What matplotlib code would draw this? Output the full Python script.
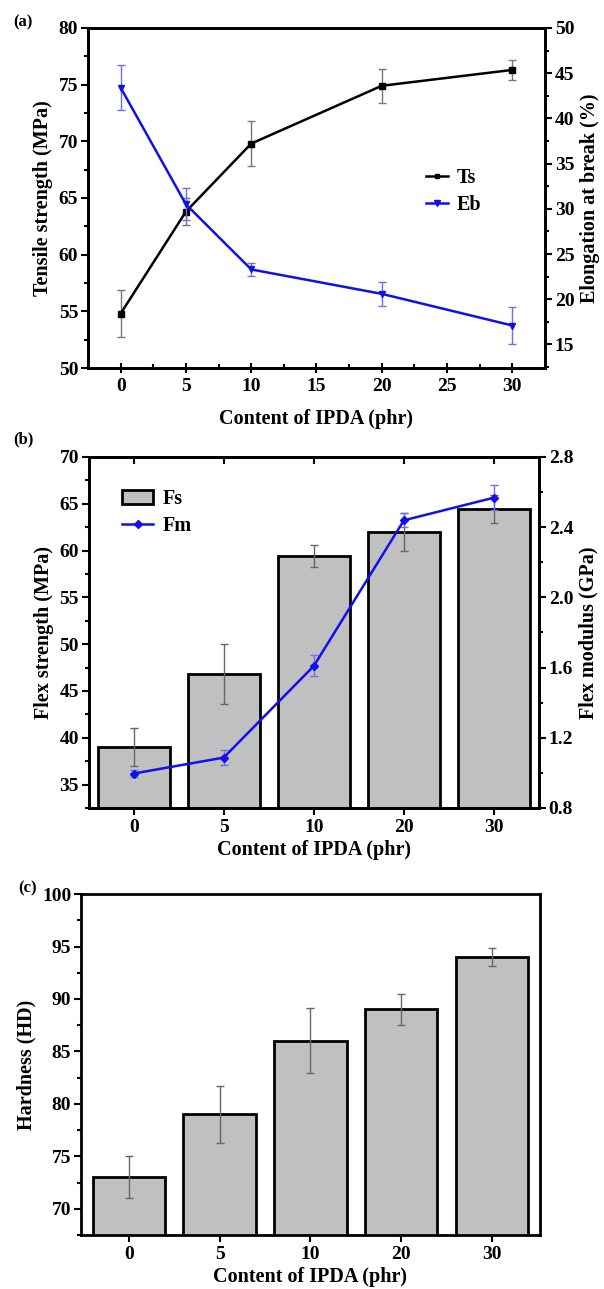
import numpy as np
import matplotlib.pyplot as plt
from matplotlib.ticker import MultipleLocator
from matplotlib.lines import Line2D
from matplotlib.patches import Patch

plt.rcParams['font.family'] = 'Liberation Serif'
plt.rcParams['font.weight'] = 'bold'
plt.rcParams['axes.labelweight'] = 'bold'
plt.rcParams['axes.linewidth'] = 2

# (a) tensile test
ipda = [0, 5, 10, 20, 30]
ts = [54.8, 63.8, 69.8, 74.9, 76.3]
ts_err = [2.1, 1.2, 1.95, 1.5, 0.9]
eb = [43.4, 30.5, 23.3, 20.6, 17.1]
eb_err = [2.5, 1.75, 0.75, 1.3, 2.0]

# (b) flexural test
cats = ['0', '5', '10', '20', '30']
fs = [39.0, 46.8, 59.4, 62.0, 64.4]
fs_err = [2.0, 3.2, 1.2, 2.0, 1.5]
fm = [0.996, 1.087, 1.609, 2.439, 2.568]
fm_err = [0.02, 0.045, 0.06, 0.04, 0.07]

# (c) hardness
hd = [73.0, 79.0, 86.0, 89.0, 94.0]
hd_err = [2.0, 2.7, 3.1, 1.5, 0.9]

fs_tick = 14
fs_lab = 14.5
grey = '#c0c0c0'
blue = '#1010ee'

fig = plt.figure(figsize=(6.04, 12.89), dpi=100)


def style_y(ax):
    ax.tick_params(axis='y', which='major', direction='out', length=5, width=1.5,
                   labelsize=fs_tick, pad=2)
    ax.tick_params(axis='y', which='minor', direction='out', length=3, width=1.5)


# ---------- (a)
ax1 = fig.add_axes([0.1457, 0.7145, 0.7566, 0.2638])
ax1.errorbar(ipda, ts, yerr=ts_err, color='black', marker='s', ms=4, lw=1.8,
             ecolor='#777777', elinewidth=1, capsize=3, capthick=1)
ax1.set_xlim(-2.5, 32.5)
ax1.set_ylim(50, 80)
ax1.xaxis.set_major_locator(MultipleLocator(5))
ax1.xaxis.set_minor_locator(MultipleLocator(2.5))
ax1.yaxis.set_major_locator(MultipleLocator(5))
ax1.yaxis.set_minor_locator(MultipleLocator(2.5))
ax1.set_xlabel('Content of IPDA (phr)', fontsize=fs_lab, labelpad=10)
ax1.set_ylabel('Tensile strength (MPa)', fontsize=fs_lab, labelpad=4)
style_y(ax1)
ax1.tick_params(axis='x', which='major', direction='inout', length=7, width=1.5,
                labelsize=fs_tick, pad=4)
ax1.tick_params(axis='x', which='minor', direction='in', length=3, width=1.5)

ax1r = ax1.twinx()
ax1r.errorbar(ipda, eb, yerr=eb_err, color=blue, marker='v', ms=5, lw=1.8,
              ecolor='#6f6fe8', elinewidth=1, capsize=3, capthick=1)
ax1r.set_ylim(12.4, 50)
ax1r.yaxis.set_major_locator(MultipleLocator(5))
ax1r.yaxis.set_minor_locator(MultipleLocator(2.5))
ax1r.set_ylabel('Elongation at break (%)', fontsize=fs_lab, labelpad=4)
style_y(ax1r)

handles = [Line2D([], [], color='black', marker='s', ms=3, lw=1.8),
           Line2D([], [], color=blue, marker='v', ms=4, lw=1.8)]
ax1r.legend(handles, ['Ts', 'Eb'], loc='center left', bbox_to_anchor=(0.7, 0.52),
            frameon=False, fontsize=fs_lab, handlelength=1.1, handletextpad=0.4,
            labelspacing=0.35)
fig.text(0.022, 0.983, '(a)', fontsize=12, va='center')

# ---------- (b)
x = np.arange(len(cats))
ax2 = fig.add_axes([0.1467, 0.3732, 0.7457, 0.2723])
ax2.bar(x, fs, width=0.8, color=grey, edgecolor='black', linewidth=2, zorder=2)
ax2.errorbar(x, fs, yerr=fs_err, fmt='none', ecolor='#666666', elinewidth=1,
             capsize=3, capthick=1, zorder=3)
ax2.set_xlim(-0.5, 4.5)
ax2.set_ylim(32.5, 70)
ax2.set_xticks(x)
ax2.set_xticklabels(cats)
ax2.yaxis.set_major_locator(MultipleLocator(5))
ax2.yaxis.set_minor_locator(MultipleLocator(2.5))
ax2.set_xlabel('Content of IPDA (phr)', fontsize=fs_lab, labelpad=3)
ax2.set_ylabel('Flex strength (MPa)', fontsize=fs_lab, labelpad=4)
style_y(ax2)
ax2.tick_params(axis='x', which='major', direction='out', length=5, width=1.5,
                labelsize=fs_tick, pad=3)
ax2t = ax2.secondary_xaxis('top')
ax2t.set_xticks(x)
ax2t.set_xticklabels([])
ax2t.tick_params(direction='in', length=5, width=1.5)

ax2r = ax2.twinx()
ax2r.errorbar(x, fm, yerr=fm_err, color=blue, marker='D', ms=4, lw=1.8,
              ecolor='#6f6fe8', elinewidth=1, capsize=3, capthick=1, zorder=4)
ax2r.set_ylim(0.8, 2.8)
ax2r.yaxis.set_major_locator(MultipleLocator(0.4))
ax2r.yaxis.set_minor_locator(MultipleLocator(0.2))
ax2r.yaxis.set_major_formatter('{x:.1f}')
ax2r.set_ylabel('Flex modulus (GPa)', fontsize=fs_lab, labelpad=4)
style_y(ax2r)

handles = [Patch(facecolor=grey, edgecolor='black', linewidth=2),
           Line2D([], [], color=blue, marker='D', ms=4, lw=1.8)]
ax2r.legend(handles, ['Fs', 'Fm'], loc='upper left', bbox_to_anchor=(0.035, 0.96),
            frameon=False, fontsize=fs_lab, handlelength=1.5, handletextpad=0.5,
            labelspacing=0.35)
fig.text(0.022, 0.659, '(b)', fontsize=12, va='center')

# ---------- (c)
ax3 = fig.add_axes([0.134, 0.0419, 0.76, 0.2645])
ax3.bar(x, hd, width=0.8, color=grey, edgecolor='black', linewidth=2, zorder=2)
ax3.errorbar(x, hd, yerr=hd_err, fmt='none', ecolor='#666666', elinewidth=1,
             capsize=3, capthick=1, zorder=3)
ax3.set_xlim(-0.53, 4.53)
ax3.set_ylim(67.5, 100)
ax3.set_xticks(x)
ax3.set_xticklabels(cats)
ax3.yaxis.set_major_locator(MultipleLocator(5))
ax3.yaxis.set_minor_locator(MultipleLocator(2.5))
ax3.set_xlabel('Content of IPDA (phr)', fontsize=fs_lab, labelpad=3)
ax3.set_ylabel('Hardness (HD)', fontsize=fs_lab, labelpad=4)
style_y(ax3)
ax3.tick_params(axis='x', which='major', direction='out', length=5, width=1.5,
                labelsize=fs_tick, pad=3)
fig.text(0.03, 0.311, '(c)', fontsize=12, va='center')

plt.savefig('out.png', dpi=100)
